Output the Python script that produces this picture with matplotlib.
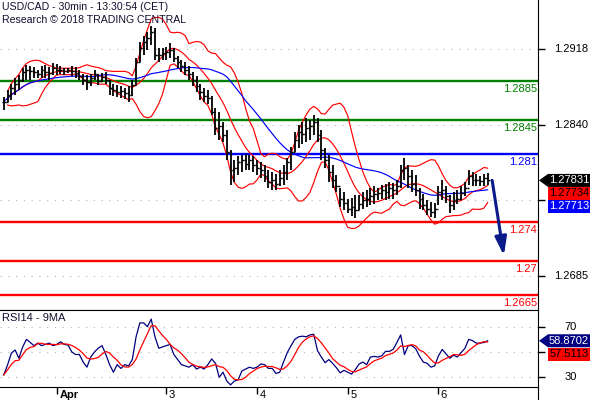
import numpy as np
import pandas as pd
import matplotlib
matplotlib.use("Agg")
import matplotlib.pyplot as plt
import matplotlib.transforms as mtransforms
from matplotlib.patches import Polygon
from matplotlib.lines import Line2D

plt.rcParams['font.family'] = ['Liberation Sans', 'DejaVu Sans']

# ── USD/CAD bars (one bar per hour) ──────────────────────────────────────────
high = [1.2869, 1.2876, 1.2882, 1.2888, 1.2891, 1.2898, 1.2902, 1.2901, 1.2900, 1.2896,
        1.2901, 1.2902, 1.2900, 1.2904, 1.2903, 1.2901, 1.2898, 1.2898, 1.2901, 1.2900,
        1.2896, 1.2892, 1.2891, 1.2892, 1.2896, 1.2892, 1.2893, 1.2894, 1.2886, 1.2882,
        1.2881, 1.2880, 1.2878, 1.2880, 1.2886, 1.2909, 1.2925, 1.2931, 1.2935, 1.2942,
        1.2940, 1.2919, 1.2919, 1.2920, 1.2924, 1.2919, 1.2911, 1.2907, 1.2905, 1.2901,
        1.2894, 1.2890, 1.2882, 1.2878, 1.2876, 1.2870, 1.2857, 1.2853, 1.2843, 1.2835,
        1.2814, 1.2804, 1.2808, 1.2809, 1.2810, 1.2809, 1.2808, 1.2804, 1.2802, 1.2799,
        1.2794, 1.2792, 1.2790, 1.2794, 1.2799, 1.2806, 1.2817, 1.2833, 1.2840, 1.2843,
        1.2847, 1.2845, 1.2850, 1.2847, 1.2835, 1.2816, 1.2809, 1.2799, 1.2789, 1.2775,
        1.2771, 1.2764, 1.2765, 1.2768, 1.2768, 1.2771, 1.2773, 1.2775, 1.2777, 1.2775,
        1.2778, 1.2779, 1.2781, 1.2780, 1.2784, 1.2799, 1.2806, 1.2799, 1.2794, 1.2789,
        1.2775, 1.2769, 1.2763, 1.2761, 1.2760, 1.2777, 1.2784, 1.2777, 1.2768, 1.2771,
        1.2773, 1.2777, 1.2781, 1.2794, 1.2792, 1.2790, 1.2788, 1.2790, 1.2791]
low = [1.2855, 1.2864, 1.2866, 1.2871, 1.2876, 1.2884, 1.2886, 1.2886, 1.2888, 1.2888,
       1.2888, 1.2888, 1.2886, 1.2891, 1.2891, 1.2892, 1.2891, 1.2893, 1.2890, 1.2888,
       1.2886, 1.2881, 1.2876, 1.2880, 1.2886, 1.2881, 1.2884, 1.2882, 1.2871, 1.2870,
       1.2869, 1.2868, 1.2867, 1.2864, 1.2870, 1.2881, 1.2905, 1.2912, 1.2917, 1.2922,
       1.2907, 1.2905, 1.2907, 1.2907, 1.2909, 1.2905, 1.2898, 1.2894, 1.2891, 1.2886,
       1.2880, 1.2874, 1.2866, 1.2864, 1.2862, 1.2850, 1.2830, 1.2825, 1.2823, 1.2804,
       1.2778, 1.2781, 1.2789, 1.2792, 1.2794, 1.2794, 1.2792, 1.2789, 1.2786, 1.2781,
       1.2775, 1.2773, 1.2773, 1.2777, 1.2778, 1.2784, 1.2794, 1.2812, 1.2816, 1.2820,
       1.2823, 1.2825, 1.2830, 1.2823, 1.2804, 1.2796, 1.2781, 1.2775, 1.2771, 1.2756,
       1.2753, 1.2750, 1.2747, 1.2745, 1.2753, 1.2754, 1.2756, 1.2758, 1.2759, 1.2763,
       1.2764, 1.2763, 1.2764, 1.2764, 1.2768, 1.2775, 1.2784, 1.2775, 1.2771, 1.2767,
       1.2754, 1.2753, 1.2748, 1.2746, 1.2745, 1.2758, 1.2763, 1.2760, 1.2750, 1.2753,
       1.2759, 1.2763, 1.2767, 1.2778, 1.2777, 1.2777, 1.2777, 1.2777, 1.2778]
close = [1.2864, 1.2871, 1.2878, 1.2882, 1.2886, 1.2894, 1.2896, 1.2895, 1.2894, 1.2892,
         1.2896, 1.2894, 1.2893, 1.2898, 1.2896, 1.2896, 1.2895, 1.2896, 1.2895, 1.2893,
         1.2890, 1.2886, 1.2884, 1.2888, 1.2892, 1.2885, 1.2889, 1.2886, 1.2878, 1.2876,
         1.2874, 1.2875, 1.2873, 1.2871, 1.2881, 1.2905, 1.2919, 1.2925, 1.2929, 1.2935,
         1.2912, 1.2912, 1.2914, 1.2915, 1.2917, 1.2909, 1.2905, 1.2901, 1.2896, 1.2892,
         1.2886, 1.2880, 1.2874, 1.2870, 1.2868, 1.2853, 1.2837, 1.2839, 1.2830, 1.2812,
         1.2794, 1.2796, 1.2802, 1.2804, 1.2800, 1.2804, 1.2799, 1.2796, 1.2794, 1.2788,
         1.2781, 1.2784, 1.2779, 1.2786, 1.2792, 1.2802, 1.2812, 1.2825, 1.2833, 1.2831,
         1.2837, 1.2839, 1.2843, 1.2830, 1.2814, 1.2804, 1.2792, 1.2784, 1.2777, 1.2764,
         1.2760, 1.2754, 1.2756, 1.2753, 1.2759, 1.2763, 1.2764, 1.2767, 1.2769, 1.2770,
         1.2773, 1.2771, 1.2775, 1.2773, 1.2777, 1.2794, 1.2796, 1.2788, 1.2779, 1.2773,
         1.2764, 1.2758, 1.2754, 1.2751, 1.2754, 1.2771, 1.2773, 1.2767, 1.2758, 1.2763,
         1.2764, 1.2770, 1.2775, 1.2788, 1.2784, 1.2784, 1.2783, 1.2786, 1.27831]

# RSI(14) values, same sampling
rsi = [31.9, 39.8, 49, 51.6, 45, 54, 60, 57.5, 55, 57,
       55, 56, 57, 55, 56, 58, 56, 55.5, 50, 48,
       48, 42, 38, 46, 50, 53, 55, 48, 40, 34,
       40, 37, 40, 39, 44, 62, 73, 73, 70, 76,
       62, 53, 54, 55, 56, 48, 44, 40, 39, 38,
       40, 36.5, 38, 36.5, 40, 44.5, 41, 30, 34, 27,
       24, 27, 28, 35, 36.5, 38, 37, 38, 40.5, 40,
       37, 37, 33, 34, 42, 49.5, 55, 60, 62, 62.5,
       62, 63.5, 64, 51, 46, 41.5, 44, 41, 37.5, 33.5,
       35.5, 34, 32.5, 36, 40.5, 42, 40, 46, 46.5, 46,
       47, 50.5, 50.5, 52, 57.5, 63.5, 48, 55, 55, 52.5,
       46.5, 42, 41, 38, 39, 47, 52, 48.5, 45, 47.5,
       46, 49.5, 53, 60, 59, 57, 57, 57.5, 58.87]

# key levels drawn by the analyst
levels = [1.2885, 1.2845, 1.281, 1.274, 1.27, 1.2665]
level_labels = ['1.2885', '1.2845', '1.281', '1.274', '1.27', '1.2665']
level_colors = ['#008000', '#008000', '#0000ff', '#ff0000', '#ff0000', '#ff0000']
target = 1.2706

price_ticks = [1.2918, 1.2840, 1.2763, 1.2685]
price_tick_labels = ['1.2918', '1.2840', '', '1.2685']
rsi_ticks = [70, 50, 30]
rsi_tick_labels = ['70', '', '30']

day_pos = [15.1, 43.8, 67.9, 92.0, 115.8]
day_labels = ['Apr', '3', '4', '5', '6']

last_price, bb_last, ma_last = 1.27831, 1.27734, 1.27713
rsi_last, rsi_ma_last = 58.8702, 57.5113

W, H = 590, 400
NAVY = '#000080'

# ── indicators ────────────────────────────────────────────────────────────────
x = np.arange(1, len(close) + 1)
c = pd.Series(close)
bb_mid = c.rolling(10, min_periods=2).mean()
bb_sd = c.rolling(10, min_periods=2).std(ddof=0)
bb_up = bb_mid + 2 * bb_sd
bb_dn = bb_mid - 2 * bb_sd
ma = c.rolling(25, min_periods=1).mean()
rsi_ma = pd.Series(rsi).rolling(5, min_periods=1).mean()
opens = [close[0]] + close[:-1]

fig = plt.figure(figsize=(W / 100, H / 100), dpi=100)
ax = fig.add_axes([0, 90 / H, 538 / W, 310 / H])
ax2 = fig.add_axes([0, 13 / H, 538 / W, 77 / H], sharex=ax)

ax.set_xlim(0, 538 / 3.78)
ax.set_ylim(1.26501, 1.29683)
ax2.set_ylim(22.3, 83.2)

for a in (ax, ax2):
    a.spines['left'].set_visible(False)
    a.yaxis.tick_right()
    a.tick_params(axis='y', length=5, width=1, direction='out', labelright=False)
ax.spines['top'].set_visible(False)
ax.tick_params(axis='x', length=0, labelbottom=False)

# gridlines
for t in price_ticks:
    ax.axhline(t, color='#b4b4b4', lw=0.8, ls=(0, (1, 6)), zorder=0)
for t in rsi_ticks:
    ax2.axhline(t, color='#b4b4b4', lw=0.8, ls=(0, (1, 6)), zorder=0)
ax.set_yticks(price_ticks)
ax2.set_yticks(rsi_ticks)

# levels
blend = mtransforms.blended_transform_factory(ax.transAxes, ax.transData)
for lv, lb, col in zip(levels, level_labels, level_colors):
    ax.axhline(lv, color=col, lw=1.7, zorder=3)
    ax.annotate(lb, xy=(0.998, lv), xycoords=blend, xytext=(0, -2),
                textcoords='offset points', ha='right', va='top',
                fontsize=8, color=col)

# indicators + bars
ax.plot(x, bb_up, color='#ff0000', lw=0.85, zorder=4)
ax.plot(x, bb_mid, color='#ff0000', lw=0.85, zorder=4)
ax.plot(x, bb_dn, color='#ff0000', lw=0.85, zorder=4)
ax.plot(x, ma, color='#0000ff', lw=0.85, zorder=4)
ax.vlines(x, low, high, color='black', lw=1.3, zorder=5)
ax.hlines(opens, x - 0.5, x, color='black', lw=1.0, zorder=5)
ax.hlines(close, x, x + 0.5, color='black', lw=1.0, zorder=5)

ax.annotate('', xy=(x[-1] + 4.3, target), xytext=(x[-1] + 1.2, last_price),
            arrowprops=dict(arrowstyle='-|>,head_length=1.1,head_width=0.35',
                            color='#0a1a8a', lw=2.2, shrinkA=0, shrinkB=0),
            zorder=6)

# right axis labels
for t, lb in zip(price_ticks, price_tick_labels):
    ax.text(571 / 538, t, lb, transform=blend, ha='center', va='center', fontsize=8)
blend2 = mtransforms.blended_transform_factory(ax2.transAxes, ax2.transData)
for t, lb in zip(rsi_ticks, rsi_tick_labels):
    ax2.text(571 / 538, t, lb, transform=blend2, ha='center', va='center', fontsize=8)

# RSI panel
ax2.plot(x, rsi, color=NAVY, lw=0.9)
ax2.plot(x, rsi_ma, color='#ff0000', lw=0.9)
ax2.set_xticks(day_pos)
ax2.tick_params(axis='x', length=5, width=1, direction='out', labelbottom=False)
for p, lb in zip(day_pos, day_labels):
    ax2.annotate(lb, xy=(p, 0), xycoords=('data', 'axes fraction'), xytext=(2, -2),
                 textcoords='offset points', ha='left', va='top', fontsize=8,
                 fontweight='bold' if lb == 'Apr' else 'normal')

fig.add_artist(Line2D([538 / W, 538 / W], [0, 13 / H], color='black', lw=0.8,
                      transform=fig.transFigure))


def value_box(a, val, dy, text, face, tcolor, pointer):
    yd = a.transData.transform((0, val))[1] - dy
    hh = 6.5
    left = 548
    verts = [(left, yd + hh), (W, yd + hh), (W, yd - hh), (left, yd - hh)]
    if pointer:
        verts.append((539, yd))
    verts = [(px / W, py / H) for px, py in verts]
    fig.add_artist(Polygon(verts, closed=True, transform=fig.transFigure,
                           facecolor=face, edgecolor='none', zorder=1))
    fig.text(569 / W, yd / H, text, ha='center', va='center', color=tcolor,
             fontsize=8, zorder=2)


value_box(ax, last_price, 0, f'{last_price:.5f}', 'black', 'white', True)
value_box(ax, last_price, 13, f'{bb_last:.5f}', '#ff0000', 'black', False)
value_box(ax, last_price, 26, f'{ma_last:.5f}', '#0000ff', 'white', False)
value_box(ax2, rsi_last, 0, f'{rsi_last:.4f}', NAVY, 'white', True)
value_box(ax2, rsi_last, 13.5, f'{rsi_ma_last:.4f}', '#ff0000', 'black', False)

# headers
fig.text(2 / W, 1 - 7 / H, 'USD/CAD - 30min - 13:30:54 (CET)', va='center',
         fontsize=7.6, color='#101030')
fig.text(2 / W, 1 - 20 / H, 'Research \u00a9 2018 TRADING CENTRAL', va='center',
         fontsize=7.6, color='#101030')
fig.text(2 / W, 1 - 318 / H, 'RSI14 - 9MA', va='center', fontsize=8, color='#101030')

fig.savefig('out.png', dpi=100)
